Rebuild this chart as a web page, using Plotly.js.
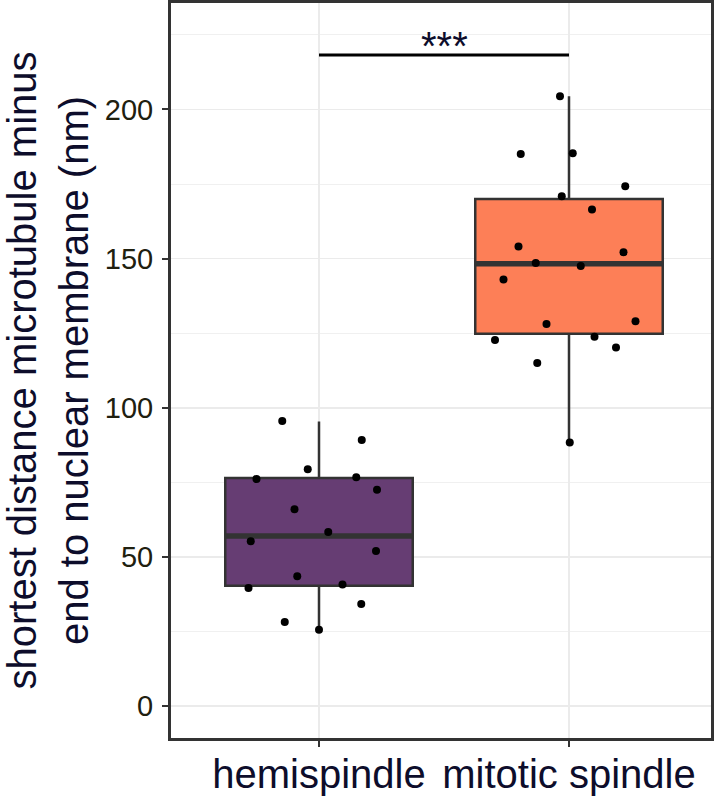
<!DOCTYPE html>
<html>
<head>
<meta charset="utf-8">
<script src="https://cdn.plot.ly/plotly-3.0.1.min.js"></script>
<style>html,body{margin:0;padding:0;background:#fff;}#chart{width:720px;height:798px;}</style>
</head>
<body>
<div id="chart"></div>
<script>
// ---- data ----
const categories = ["hemispindle", "mitotic spindle"];
const boxColors = ["#663d73", "#fd7f57"];

// box statistics
const q1Vals = [40.3, 124.8];
const medianVals = [57.0, 148.3];
const q3Vals = [76.5, 170.0];
const lowerWhisker = [25.7, 88.4];
const upperWhisker = [95.4, 204.4];

// individual points
const hemiValues = [95.6, 89.2, 79.4, 76.1, 76.7, 72.5, 66.0, 58.4, 55.3, 52.0, 43.5, 39.6, 40.8, 34.2, 28.2, 25.6];
const hemiJitter = [-0.147, 0.171, -0.045, -0.250, 0.149, 0.232, -0.098, 0.037, -0.273, 0.228, -0.087, -0.282, 0.094, 0.169, -0.137, 0.0];
const mitoValues = [204.4, 185.1, 185.3, 174.3, 170.9, 166.5, 154.1, 152.1, 148.5, 147.5, 143.0, 129.0, 128.1, 122.7, 123.8, 120.2, 115.0, 88.4];
const mitoJitter = [-0.036, -0.193, 0.015, 0.225, -0.029, 0.092, -0.202, 0.218, -0.133, 0.047, -0.262, 0.266, -0.090, -0.296, 0.102, 0.188, -0.127, 0.003];

// significance
const sigValue = 218.3;
const sigLabel = "***";

const yTicks = [0, 50, 100, 150, 200];
const yTitle = "shortest distance microtubule minus<br>end to nuclear membrane (nm)";

// ---- traces ----
const BOXW = 0.75;
const traces = [];
categories.forEach((c, i) => {
  traces.push({
    type: "box",
    x: [i + 1],
    q1: [q1Vals[i]], median: [medianVals[i]], q3: [q3Vals[i]],
    lowerfence: [lowerWhisker[i]], upperfence: [upperWhisker[i]],
    width: BOXW,
    whiskerwidth: 0,
    fillcolor: boxColors[i],
    line: {color: "#333333", width: 2.5},
    boxpoints: false,
    hoverinfo: "skip",
    showlegend: false
  });
  traces.push({
    type: "scatter", mode: "lines",
    x: [i + 1 - BOXW / 2, i + 1 + BOXW / 2],
    y: [medianVals[i], medianVals[i]],
    line: {color: "#333333", width: 5.5},
    hoverinfo: "skip", showlegend: false
  });
});
const groups = [[hemiValues, hemiJitter], [mitoValues, mitoJitter]];
groups.forEach((g, i) => {
  traces.push({
    type: "scatter", mode: "markers",
    x: g[1].map(j => i + 1 + j),
    y: g[0],
    marker: {color: "#000000", size: 8},
    showlegend: false
  });
});
traces.push({
  type: "scatter", mode: "lines",
  x: [1, 2], y: [sigValue, sigValue],
  line: {color: "#000000", width: 3},
  hoverinfo: "skip", showlegend: false
});

const layout = {
  width: 720, height: 798,
  margin: {l: 171, r: 9, t: 3, b: 60},
  paper_bgcolor: "#ffffff",
  plot_bgcolor: "#ffffff",
  font: {family: "Liberation Sans, Arial, sans-serif"},
  showlegend: false,
  xaxis: {
    range: [0.408, 2.568],
    tickvals: [1, 2],
    ticktext: categories,
    tickfont: {size: 40, color: "#0d0d2b"},
    ticklabelstandoff: -7,
    showgrid: true, gridcolor: "#ebebeb", gridwidth: 1.5,
    zeroline: false,
    showline: true, mirror: true, linecolor: "#333333", linewidth: 3,
    ticks: "outside", ticklen: 6, tickwidth: 2, tickcolor: "#333333"
  },
  yaxis: {
    range: [-10.7, 235.7],
    tickvals: yTicks,
    tickfont: {size: 29, color: "#20200f"},
    ticklabelstandoff: 3,
    showgrid: true, gridcolor: "#ebebeb", gridwidth: 1.5,
    minor: {dtick: 25, tick0: 0, showgrid: true, gridcolor: "#f0f0f0", gridwidth: 1},
    zeroline: false,
    showline: true, mirror: true, linecolor: "#333333", linewidth: 3,
    ticks: "outside", ticklen: 6, tickwidth: 2, tickcolor: "#333333",
    title: {text: yTitle, font: {size: 40, color: "#0d0d2b"}, standoff: 30}
  },
  annotations: [{
    x: 1.5, y: sigValue, xref: "x", yref: "y",
    text: sigLabel, showarrow: false,
    yanchor: "bottom", yshift: -15,
    font: {size: 40, color: "#0d0d2b"}
  }]
};

Plotly.newPlot("chart", traces, layout, {displayModeBar: false, staticPlot: true});
</script>
</body>
</html>
